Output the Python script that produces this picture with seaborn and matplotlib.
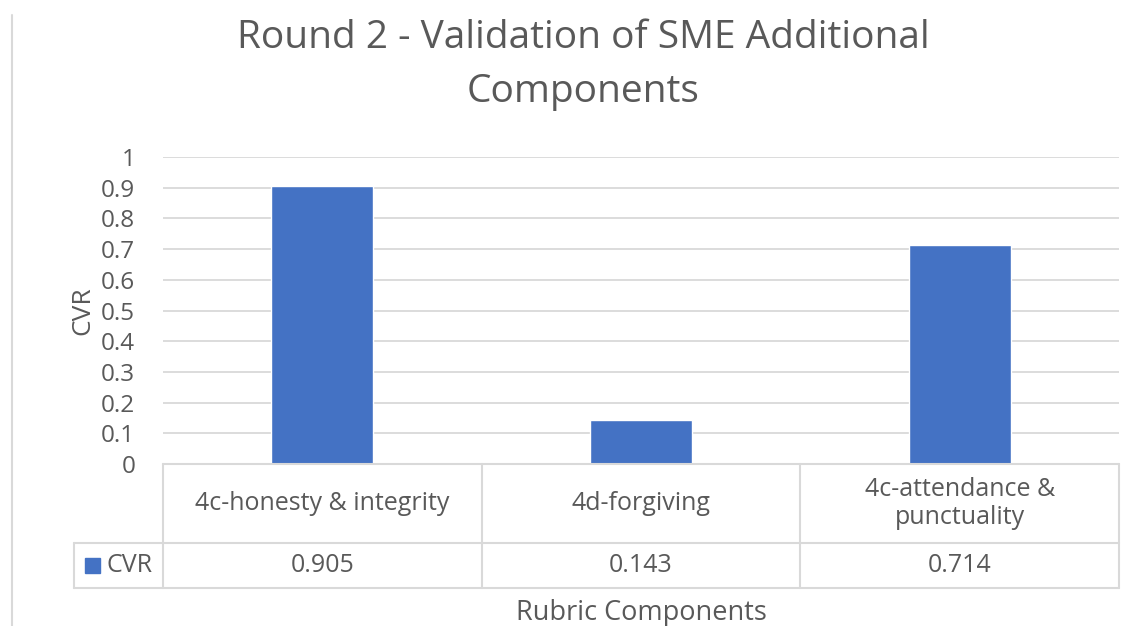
import matplotlib
matplotlib.use("Agg")
import matplotlib.pyplot as plt
import seaborn as sns
import pandas as pd

# data
categories = ["4c-honesty & integrity", "4d-forgiving", "4c-attendance &\npunctuality"]
cvr = [0.905, 0.143, 0.714]
value_labels = ["0.905", "0.143", "0.714"]
series_name = "CVR"
yticks = [0, 0.1, 0.2, 0.3, 0.4, 0.5, 0.6, 0.7, 0.8, 0.9, 1]

df = pd.DataFrame({"Component": categories, "CVR": cvr})

sns.set_style("white")
plt.rcParams["font.family"] = ["Open Sans", "DejaVu Sans"]

W, H = 1141, 626
fig = plt.figure(figsize=(W / 100, H / 100), dpi=100)

def fx(px):
    return px / W

def fy(py):
    return 1 - py / H

txt = "#595959"
grid = "#D9D9D9"
blue = "#4472C4"

# plot area in pixels
left, right, top, bottom = 163, 1119, 157, 464
ax = fig.add_axes([fx(left), fy(bottom), fx(right - left), (bottom - top) / H])
sns.barplot(data=df, x="Component", y="CVR", color=blue, width=0.32, ax=ax, saturation=1)
ax.set_ylim(0, 1)
ax.set_xlim(-0.5, 2.5)
ax.set_yticks(yticks)
ax.set_yticklabels([f"{t:g}" for t in yticks], fontsize=17.5, color=txt)
ax.tick_params(axis="y", length=0, pad=20)
ax.set_xticks([])
ax.set_xlabel("")
ax.set_ylabel("CVR", fontsize=19, color=txt, labelpad=4)
ax.yaxis.grid(True, color=grid, lw=1.3)
ax.set_axisbelow(True)
for s in ax.spines.values():
    s.set_visible(False)

# title
fig.text(fx(583), fy(38), "Round 2 - Validation of SME Additional", ha="center", va="center",
         fontsize=28, color=txt)
fig.text(fx(583), fy(92), "Components", ha="center", va="center", fontsize=28, color=txt)

# data table
row1, row2 = 543, 588
legx = 74
colx = [left + (right - left) * i / 3 for i in range(4)]

def hline(y, x0, x1):
    fig.add_artist(plt.Line2D([fx(x0), fx(x1)], [fy(y), fy(y)], color=grid, lw=1.5))

def vline(x, y0, y1):
    fig.add_artist(plt.Line2D([fx(x), fx(x)], [fy(y0), fy(y1)], color=grid, lw=1.5))

hline(bottom, left, right)
hline(row1, legx, right)
hline(row2, legx, right)
for x in colx:
    vline(x, bottom, row2)
vline(legx, row1, row2)

for i, (c, v) in enumerate(zip(categories, value_labels)):
    cx = (colx[i] + colx[i + 1]) / 2
    fig.text(fx(cx), fy((bottom + row1) / 2), c, ha="center", va="center", fontsize=18,
             color=txt, linespacing=1.2)
    fig.text(fx(cx), fy((row1 + row2) / 2), v, ha="center", va="center", fontsize=18, color=txt)

fig.add_artist(plt.Rectangle((fx(85), fy(573)), fx(15), 15 / H, color=blue))
fig.text(fx(106), fy((row1 + row2) / 2), series_name, ha="left", va="center", fontsize=18, color=txt)

fig.text(fx(641), fy(613), "Rubric Components", ha="center", va="center", fontsize=19.5, color=txt)

# left border of chart frame
vline(12, 15, 626)

fig.savefig("out.png", dpi=100)
